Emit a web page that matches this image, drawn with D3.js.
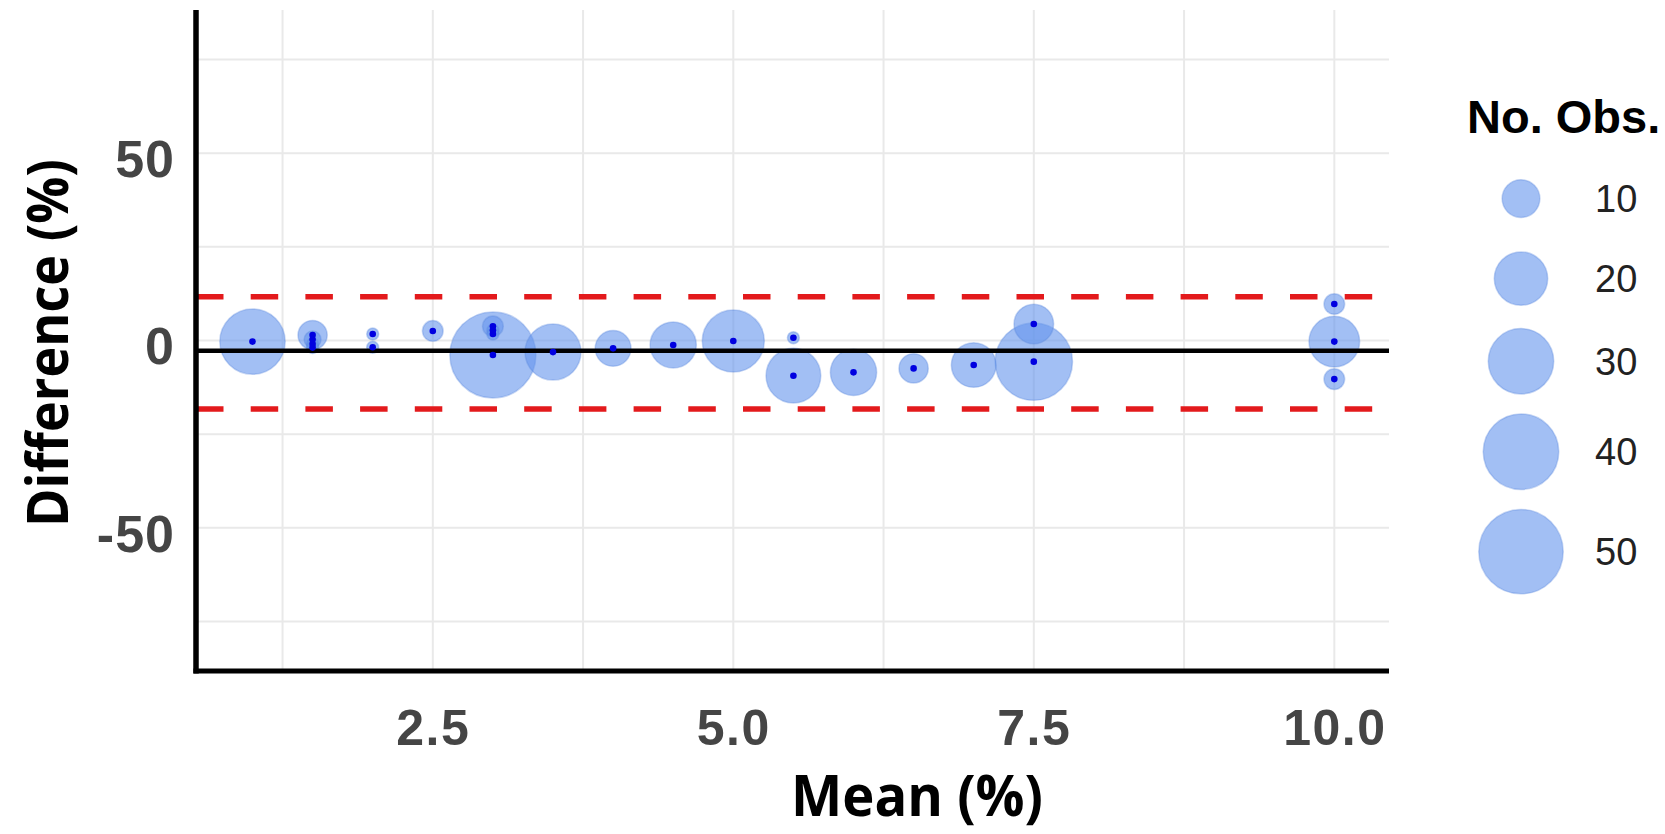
<!DOCTYPE html>
<html>
<head>
<meta charset="utf-8">
<script src="https://cdn.jsdelivr.net/npm/d3@7"></script>
<style>
  html, body { margin: 0; padding: 0; background: #ffffff; }
  svg { display: block; }
</style>
</head>
<body>
<svg id="chart" width="1665" height="834"></svg>
<script>
// Bland–Altman style agreement plot: each bubble is one (mean, difference) pair,
// its area scaled by the number of observations sharing that pair.
const meanPct = [1.0, 1.5, 1.5, 1.5, 1.5, 2.0, 2.0, 2.5, 3.0, 3.0, 3.0, 3.0, 3.5, 4.0,
                 4.5, 5.0, 5.5, 5.5, 6.0, 6.5, 7.0, 7.5, 7.5, 10.0, 10.0, 10.0];
const diffPct = [-0.3, 1.45, 0.25, -0.95, -1.9, 1.75, -1.8, 2.55, 3.8, 2.75, 1.75, -3.85, -3.1, -2.1,
                 -1.2, -0.15, 0.75, -9.4, -8.5, -7.45, -6.55, 4.4, -5.65, 9.75, -0.3, -10.3];
const obsCount = [30, 6, 2, 1, 1, 1, 1, 3, 3, 1, 1, 52, 22, 9,
                  15, 27, 1, 21, 15, 6, 14, 11, 42, 3, 18, 3];

// Mean bias (solid) and 95% limits of agreement (dashed)
const meanBias = -2.75;
const limitsOfAgreement = [11.7, -18.3];

// Axis ticks
const xMajorTicks = [2.5, 5.0, 7.5, 10.0];
const xMinorTicks = [1.25, 3.75, 6.25, 8.75];
const yMajorTicks = [-50, 0, 50];
const yMinorTicks = [-75, -25, 25, 75];

// Legend sizes
const legendCounts = [10, 20, 30, 40, 50];

const svg = d3.select("#chart");

const panel = { left: 196, right: 1389, top: 10, bottom: 671 };

const x = d3.scaleLinear().domain([0.53, 10.455]).range([panel.left, panel.right]);
const y = d3.scaleLinear().domain([-88.2, 88.2]).range([panel.bottom, panel.top]);
const r = d3.scaleSqrt().domain([0, 50]).range([0, 42.2]);

const bubbleFill = "#6495ED";
const bubbleOpacity = 0.6;
const gridColor = "#e9e9e9";

// Grid
const grid = svg.append("g").attr("class", "grid");
grid.selectAll("line.vx")
  .data(xMinorTicks.concat(xMajorTicks))
  .join("line")
  .attr("class", "vx")
  .attr("x1", d => x(d)).attr("x2", d => x(d))
  .attr("y1", panel.top).attr("y2", panel.bottom)
  .attr("stroke", gridColor).attr("stroke-width", 2);
grid.selectAll("line.hy")
  .data(yMinorTicks.concat(yMajorTicks))
  .join("line")
  .attr("class", "hy")
  .attr("x1", panel.left).attr("x2", panel.right)
  .attr("y1", d => y(d)).attr("y2", d => y(d))
  .attr("stroke", gridColor).attr("stroke-width", 2);

// Bubbles (largest first so small ones stay visible)
const points = meanPct.map((m, i) => ({ m, d: diffPct[i], n: obsCount[i] }))
  .sort((a, b) => b.n - a.n);

svg.append("g").attr("class", "bubbles")
  .selectAll("circle")
  .data(points)
  .join("circle")
  .attr("cx", p => x(p.m))
  .attr("cy", p => y(p.d))
  .attr("r", p => r(p.n))
  .attr("fill", bubbleFill)
  .attr("fill-opacity", bubbleOpacity)
  .attr("stroke", "#5a86dc")
  .attr("stroke-opacity", 0.35)
  .attr("stroke-width", 1.5);

// Limits of agreement
svg.append("g").attr("class", "loa")
  .selectAll("line")
  .data(limitsOfAgreement)
  .join("line")
  .attr("x1", panel.left).attr("x2", panel.right)
  .attr("y1", d => y(d)).attr("y2", d => y(d))
  .attr("stroke", "#e31a1c")
  .attr("stroke-width", 5.5)
  .attr("stroke-dasharray", "27.5,27.2");

// Mean bias line
svg.append("line")
  .attr("x1", panel.left).attr("x2", panel.right)
  .attr("y1", y(meanBias)).attr("y2", y(meanBias))
  .attr("stroke", "#000").attr("stroke-width", 4.5);

// Centre markers
svg.append("g").attr("class", "centres")
  .selectAll("circle")
  .data(points)
  .join("circle")
  .attr("cx", p => x(p.m))
  .attr("cy", p => y(p.d))
  .attr("r", 3.3)
  .attr("fill", "#0000e0");

// Axis lines
svg.append("line")
  .attr("x1", panel.left).attr("x2", panel.left)
  .attr("y1", panel.top).attr("y2", panel.bottom + 2.5)
  .attr("stroke", "#000").attr("stroke-width", 5.5);
svg.append("line")
  .attr("x1", panel.left - 2.5).attr("x2", panel.right)
  .attr("y1", panel.bottom).attr("y2", panel.bottom)
  .attr("stroke", "#000").attr("stroke-width", 5);

// Tick labels via d3 axes (no domain path or tick marks)
const tickFont = "'Liberation Sans', Arial, Helvetica, sans-serif";

const xAxis = svg.append("g")
  .attr("transform", `translate(0,${panel.bottom})`)
  .call(d3.axisBottom(x).tickValues(xMajorTicks).tickFormat(d3.format(".1f")).tickSize(0).tickPadding(38));
xAxis.select(".domain").remove();
xAxis.selectAll("text")
  .attr("font-family", tickFont).attr("font-weight", "bold")
  .attr("font-size", 50).attr("fill", "#454545")
  .attr("letter-spacing", 1.5);

const yAxis = svg.append("g")
  .attr("transform", `translate(${panel.left},0)`)
  .call(d3.axisLeft(y).tickValues(yMajorTicks).tickFormat(d => String(d)).tickSize(0).tickPadding(21));
yAxis.select(".domain").remove();
yAxis.selectAll("text")
  .attr("font-family", tickFont).attr("font-weight", "bold")
  .attr("font-size", 52).attr("fill", "#454545")
  .attr("letter-spacing", 1)
  .attr("dy", "0.45em");

// Axis titles
const titleFont = "'Open Sans', 'Noto Sans', Lato, sans-serif";
svg.append("text")
  .attr("x", 917).attr("y", 816)
  .attr("text-anchor", "middle")
  .attr("font-family", titleFont).attr("font-weight", "bold")
  .attr("font-size", 57).attr("fill", "#000")
  .attr("textLength", 252).attr("lengthAdjust", "spacingAndGlyphs")
  .text("Mean (%)");

svg.append("text")
  .attr("transform", "translate(68,343) rotate(-90)")
  .attr("text-anchor", "middle")
  .attr("font-family", titleFont).attr("font-weight", "bold")
  .attr("font-size", 58).attr("fill", "#000")
  .attr("textLength", 368).attr("lengthAdjust", "spacingAndGlyphs")
  .text("Difference (%)");

// Legend: keys stack with a height that grows with the symbol
const legend = svg.append("g").attr("class", "legend");
legend.append("text")
  .attr("x", 1467).attr("y", 133)
  .attr("font-family", tickFont).attr("font-weight", "bold")
  .attr("font-size", 47).attr("fill", "#000")
  .text("No. Obs.");

const keyHeight = d => Math.max(80, 2 * r(d) + 20);
let cursor = 158.6;
const keys = legendCounts.map(d => {
  const h = keyHeight(d);
  const cy = cursor + h / 2;
  cursor += h;
  return { d, cy };
});

const items = legend.selectAll("g.item")
  .data(keys)
  .join("g")
  .attr("class", "item")
  .attr("transform", k => `translate(0,${k.cy})`);
items.append("circle")
  .attr("cx", 1521).attr("cy", 0)
  .attr("r", k => r(k.d))
  .attr("fill", bubbleFill)
  .attr("fill-opacity", bubbleOpacity)
  .attr("stroke", "#5a86dc").attr("stroke-opacity", 0.35).attr("stroke-width", 1.5);
items.append("text")
  .attr("x", 1595).attr("y", 0).attr("dy", "0.36em")
  .attr("font-family", tickFont)
  .attr("font-size", 38).attr("fill", "#222")
  .text(k => k.d);
</script>
</body>
</html>
